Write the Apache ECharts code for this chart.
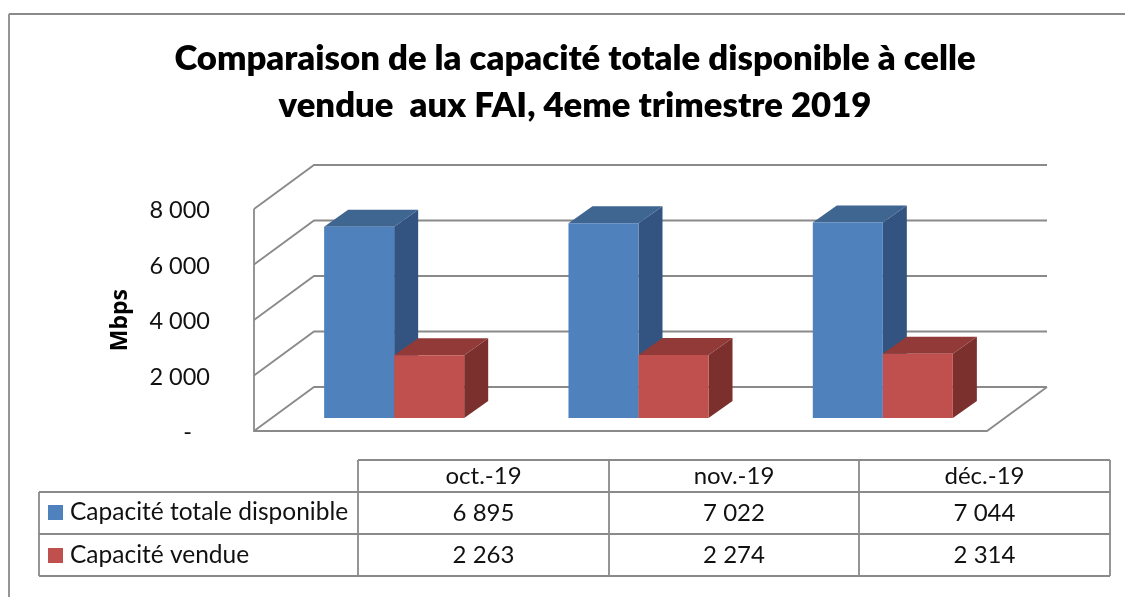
<!DOCTYPE html>
<html><head><meta charset="utf-8">
<style>html,body{margin:0;padding:0;background:#fff}#c{width:1125px;height:597px}</style>
<script src="https://cdn.jsdelivr.net/npm/echarts@6/dist/echarts.min.js"></script>
</head><body><div id="c"></div>
<script>
const categories = ['oct.-19', 'nov.-19', 'déc.-19'];
const capTotale = [6895, 7022, 7044];
const capVendue = [2263, 2274, 2314];
const yTicks = [0, 2000, 4000, 6000, 8000];
const serieNames = ['Capacité totale disponible', 'Capacité vendue'];

const FONT = 'Lato, Carlito, sans-serif';
const GRAY = '#8a8a8a';
const fmt = v => v === 0 ? '-   ' : String(v).replace(/\B(?=(\d{3})+$)/g, ' ');

const chart = echarts.init(document.getElementById('c'), null, {renderer: 'canvas'});

const lineStyle = {stroke: GRAY, lineWidth: 1.8, fill: null};

function wallItem(params, api) {
  const cs = params.coordSys;
  const y = api.coord([0, api.value(1)])[1];
  const bx = 60, by = -44;
  const children = [{
    type: 'polyline', shape: {points: [[cs.x, y], [cs.x + bx, y + by], [cs.x + cs.width + bx, y + by]]},
    style: lineStyle, silent: true
  }];
  if (api.value(1) === 0) {
    children.push({type: 'polyline', shape: {points: [[cs.x, cs.y], [cs.x, y], [cs.x + cs.width, y], [cs.x + cs.width + bx, y + by]]}, style: lineStyle, silent: true});
  }
  return {type: 'group', children};
}

function barItem(side, colors) {
  return function (params, api) {
    const cat = api.value(0), val = api.value(1);
    const c = api.coord([cat, val]);
    const z = api.coord([cat, 0]);
    const w = api.size([1, 0])[0] * 0.2866;
    const fx = 18, fy = -13, dx = 24, dy = -17;
    const x0 = c[0] + fx + (side === 0 ? -w : 0), x1 = x0 + w;
    const yT = c[1] + fy, yB = z[1] + fy;
    return {type: 'group', children: [
      {type: 'polygon', shape: {points: [[x1, yT], [x1 + dx, yT + dy], [x1 + dx, yB + dy], [x1, yB]]}, style: {fill: colors.side}},
      {type: 'polygon', shape: {points: [[x0, yT], [x0 + dx, yT + dy], [x1 + dx, yT + dy], [x1, yT]]}, style: {fill: colors.top}},
      {type: 'rect', shape: {x: x0, y: yT, width: w, height: yB - yT}, style: {fill: colors.front}}
    ]};
  };
}

const colXs = [358, 609, 859, 1110];
const rowYs = [460, 492, 534, 576];
const rowMid = [476, 513, 555];
const tableX0 = 39;

const graphics = [];
const gl = (x1, y1, x2, y2) => graphics.push({type: 'line', shape: {x1, y1, x2, y2}, style: {stroke: GRAY, lineWidth: 1.8}, silent: true});
gl(9, 14, 1125, 14); gl(9, 14, 9, 597);
gl(colXs[0], rowYs[0], colXs[3], rowYs[0]);
gl(tableX0, rowYs[1], colXs[3], rowYs[1]);
gl(tableX0, rowYs[2], colXs[3], rowYs[2]);
gl(tableX0, rowYs[3], colXs[3], rowYs[3]);
gl(tableX0, rowYs[1], tableX0, rowYs[3]);
colXs.forEach(x => gl(x, rowYs[0], x, rowYs[3]));
const gt = (text, i, row) => graphics.push({type: 'text', x: (colXs[i] + colXs[i + 1]) / 2, y: rowMid[row],
  style: {text, font: '24px ' + FONT, fill: '#111', textAlign: 'center', textVerticalAlign: 'middle'}, silent: true});
categories.forEach((c, i) => {
  gt(c, i, 0); gt(fmt(capTotale[i]), i, 1); gt(fmt(capVendue[i]), i, 2);
});

chart.setOption({
  animation: false,
  backgroundColor: '#fff',
  title: {
    text: 'Comparaison de la capacité totale disponible à celle\nvendue  aux FAI, 4eme trimestre 2019',
    left: 570, top: 30, textAlign: 'center',
    textStyle: {fontFamily: 'Lato', fontWeight: 800, fontSize: 34.7, lineHeight: 47, color: '#000'}
  },
  legend: {
    data: serieNames, orient: 'vertical', left: 48, top: 500, padding: 0,
    itemWidth: 15, itemHeight: 15, itemGap: 18, icon: 'rect', selectedMode: false,
    textStyle: {fontFamily: FONT, fontSize: 24.5, lineHeight: 24, color: '#111', padding: [0, 0, 0, 2]}
  },
  grid: {left: 254, top: 209, width: 733, height: 222},
  xAxis: {type: 'category', data: categories, axisLine: {show: false}, axisTick: {show: false}, axisLabel: {show: false}},
  yAxis: {
    type: 'value', min: 0, max: 8000, interval: 2000,
    name: 'Mbps', nameLocation: 'middle', nameGap: 122, nameRotate: 90,
    nameTextStyle: {fontFamily: 'Noto Sans', fontWeight: 700, fontSize: 23, color: '#000'},
    axisLine: {show: false}, axisTick: {show: false}, splitLine: {show: false},
    axisLabel: {margin: 44, fontFamily: FONT, fontSize: 23.5, color: '#111', formatter: fmt, verticalAlign: 'top', lineHeight: 3}
  },
  graphic: graphics,
  series: [
    {type: 'custom', name: 'parois', z: 1, clip: false, silent: true, renderItem: wallItem,
     data: yTicks.map(v => [0, v])},
    {type: 'custom', name: serieNames[0], z: 2, clip: false, itemStyle: {color: '#4F81BD'},
     renderItem: barItem(0, {front: '#4F81BD', top: '#3F6591', side: '#335480'}),
     data: capTotale.map((v, i) => [i, v])},
    {type: 'custom', name: serieNames[1], z: 3, clip: false, itemStyle: {color: '#C0504D'},
     renderItem: barItem(1, {front: '#C0504D', top: '#913A38', side: '#7B302E'}),
     data: capVendue.map((v, i) => [i, v])}
  ]
});
</script></body></html>
